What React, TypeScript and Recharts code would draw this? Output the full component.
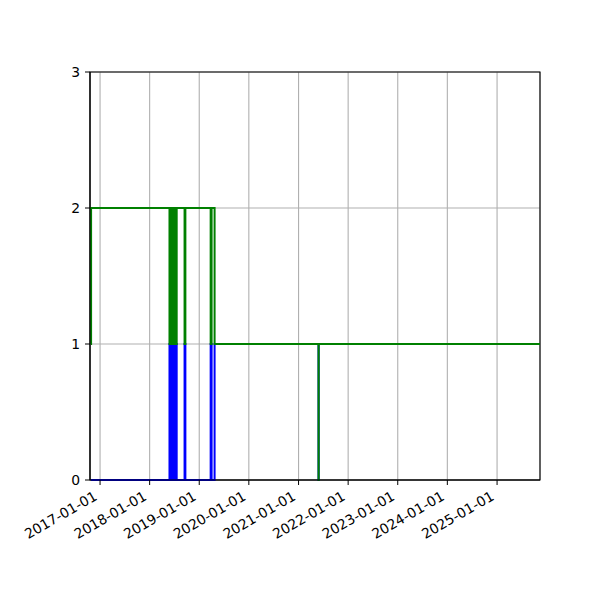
import { LineChart, Line, XAxis, YAxis, CartesianGrid, ReferenceArea } from "recharts";

// step change dates and the value each series takes from that date on
const dates = [
    "2016-10-26", "2016-10-27",
    "2018-05-27", "2018-05-31", "2018-06-03", "2018-06-07", "2018-06-10", "2018-06-14",
    "2018-06-17", "2018-06-21", "2018-06-24", "2018-06-28", "2018-07-01", "2018-07-05",
    "2018-07-08", "2018-07-12", "2018-07-15", "2018-07-19", "2018-07-21",
    "2018-09-15", "2018-09-21",
    "2019-03-26", "2019-04-02", "2019-04-24",
    "2021-05-28", "2021-05-29",
    "2025-11-13",
];
const blueVals = [
    0, 0,
    1, 0, 1, 0, 1, 0,
    1, 0, 1, 0, 1, 0,
    1, 0, 1, 0, 0,
    1, 0,
    1, 0, 1,
    0, 1,
    1,
];
const greenVals = [
    1, 2,
    1, 2, 1, 2, 1, 2,
    1, 2, 1, 2, 1, 2,
    1, 2, 1, 2, 2,
    1, 2,
    1, 2, 1,
    0, 1,
    1,
];
const yearTicks = [
    "2017-01-01", "2018-01-01", "2019-01-01", "2020-01-01", "2021-01-01",
    "2022-01-01", "2023-01-01", "2024-01-01", "2025-01-01",
];
const yTicks = [0, 1, 2, 3];
const xStart = "2016-10-19";
const xEnd = "2025-11-13";

const data = dates.map((d, i) => ({ t: Date.parse(d), blue: blueVals[i], green: greenVals[i] }));
const font = "'DejaVu Sans', sans-serif";

const fmtDate = (v: number) => new Date(v).toISOString().slice(0, 10);

function DateTick(props: any) {
    const { x, y, payload } = props;
    return (
        <text
            x={x - 2}
            y={y + 14}
            textAnchor="end"
            transform={`rotate(-30, ${x - 2}, ${y + 14})`}
            fontSize={13.9}
            fontFamily={font}
            fill="#000"
        >
            {fmtDate(payload.value)}
        </text>
    );
}

export default function App() {
    const x0 = Date.parse(xStart);
    const x1 = Date.parse(xEnd);
    return (
        <div style={{ position: "absolute", left: 0, top: 0, width: 600, height: 600, background: "#fff" }}>
            <LineChart width={600} height={600} data={data} margin={{ top: 72, right: 60, bottom: 60, left: 50 }}>
                <CartesianGrid stroke="#b0b0b0" strokeWidth={1.1} />
                <XAxis
                    dataKey="t"
                    type="number"
                    scale="time"
                    domain={[x0, x1]}
                    ticks={yearTicks.map((d) => Date.parse(d))}
                    interval={0}
                    allowDataOverflow
                    height={60}
                    stroke="#000"
                    tickSize={5}
                    tickMargin={0}
                    tick={<DateTick />}
                />
                <YAxis
                    type="number"
                    domain={[0, 3]}
                    ticks={yTicks}
                    interval={0}
                    width={40}
                    stroke="#000"
                    tickSize={5}
                    tickMargin={5}
                    tick={{ fontSize: 13.9, fontFamily: font, fill: "#000" }}
                />
                <Line
                    type="stepAfter"
                    dataKey="blue"
                    stroke="#0000ff"
                    strokeWidth={2}
                    dot={false}
                    isAnimationActive={false}
                />
                <Line
                    type="stepAfter"
                    dataKey="green"
                    stroke="#008000"
                    strokeWidth={2}
                    dot={false}
                    isAnimationActive={false}
                />
                <ReferenceArea
                    x1={x0}
                    x2={x1}
                    y1={0}
                    y2={3}
                    fill="none"
                    stroke="#000"
                    strokeWidth={1.1}
                    fillOpacity={0}
                    ifOverflow="visible"
                />
            </LineChart>
        </div>
    );
}
